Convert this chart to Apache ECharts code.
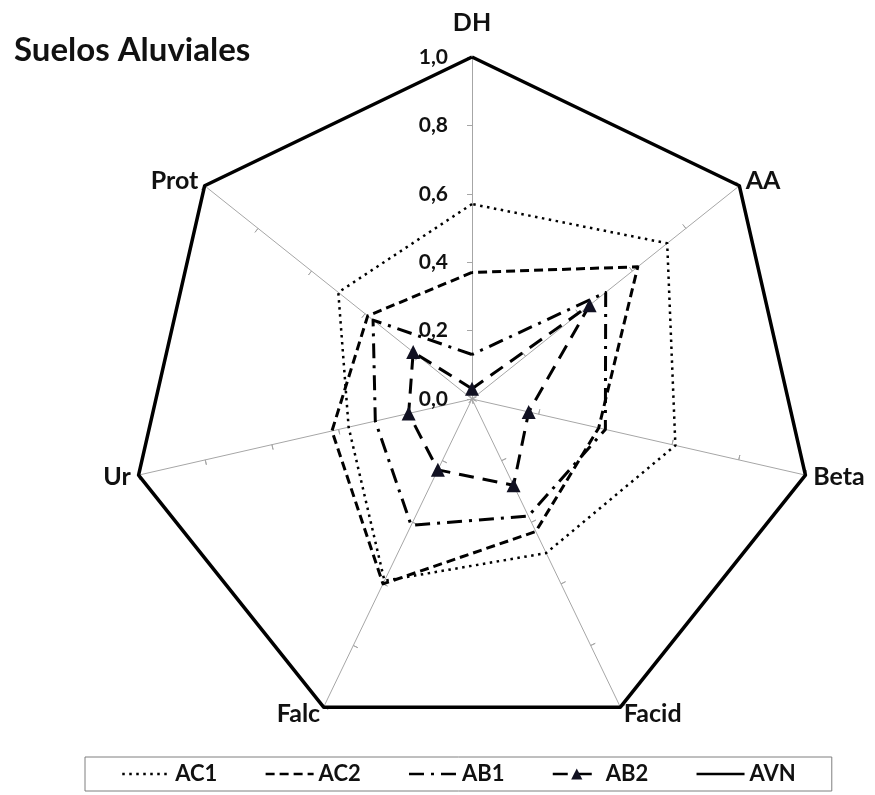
<!DOCTYPE html>
<html>
<head>
<meta charset="utf-8">
<style>
  html, body { margin: 0; padding: 0; background: #fff; }
  #chart { width: 875px; height: 795px; }
</style>
<script src="https://cdn.jsdelivr.net/npm/echarts@6/dist/echarts.min.js"></script>
</head>
<body>
<div id="chart"></div>
<script>
// axes in the order they are read clockwise from the top
const categories = ['DH', 'AA', 'Beta', 'Facid', 'Falc', 'Ur', 'Prot'];

const ac1 = [0.57, 0.73, 0.61, 0.50, 0.59, 0.37, 0.50];
const ac2 = [0.37, 0.62, 0.38, 0.43, 0.60, 0.42, 0.39];
const ab1 = [0.13, 0.50, 0.40, 0.38, 0.41, 0.29, 0.37];
const ab2 = [0.03, 0.44, 0.17, 0.28, 0.23, 0.19, 0.22];
const avn = [1.0, 1.0, 1.0, 1.0, 1.0, 1.0, 1.0];

const seriesNames = ['AC1', 'AC2', 'AB1', 'AB2', 'AVN'];

var chartDom = document.getElementById('chart');
var myChart = echarts.init(chartDom);
var option;

// echarts radar goes counter-clockwise, so flip everything after the first axis
function ccw(arr) {
    return [arr[0]].concat(arr.slice(1).reverse());
}

const font = 'Lato, "Open Sans", sans-serif';
const ink = '#111111';

const styles = {
    AC1: { type: [2.5, 4.5], width: 2.5, symbol: 'none' },
    AC2: { type: [9, 5], width: 3, symbol: 'none' },
    AB1: { type: [15, 7, 3, 7], width: 3, symbol: 'none' },
    AB2: { type: [15, 9], width: 3, symbol: 'triangle' },
    AVN: { type: 'solid', width: 3.5, symbol: 'none' }
};
const values = { AC1: ac1, AC2: ac2, AB1: ab1, AB2: ab2, AVN: avn };

const indicators = ccw(categories).map(function (name, i) {
    let ind = { name: name, min: 0, max: 1 };
    if (i === 0) {
        ind.axisLabel = { show: true };
        ind.nameGap = 22;
    }
    return ind;
});

let series = [];
// empty line series only to give the legend its line icons
seriesNames.forEach(function (name) {
    series.push({
        name: name,
        type: 'line',
        data: [],
        symbol: styles[name].symbol,
        symbolSize: 12,
        itemStyle: { color: '#111122' },
        lineStyle: { color: '#000', type: styles[name].type, width: styles[name].width }
    });
});
seriesNames.forEach(function (name) {
    series.push({
        name: name,
        type: 'radar',
        radarIndex: 0,
        symbol: styles[name].symbol,
        symbolSize: 14,
        itemStyle: { color: '#111122' },
        lineStyle: { color: '#000', type: styles[name].type, width: styles[name].width },
        data: [{ name: name, value: ccw(values[name]) }],
        z: name === 'AVN' ? 2 : 3
    });
});

// hide the round marker the legend puts on lines without symbols
const legendData = seriesNames.map(function (name) {
    if (styles[name].symbol === 'none') {
        return { name: name, itemStyle: { color: 'rgba(0,0,0,0)', borderWidth: 0, opacity: 0 } };
    }
    return { name: name };
});

option = {
    animation: false,
    title: {
        text: 'Suelos Aluviales',
        left: 9,
        top: 29,
        textStyle: { fontFamily: font, fontWeight: 'bold', fontSize: 33, color: ink }
    },
    grid: { show: false, left: 0, top: 0, width: 1, height: 1 },
    xAxis: { show: false, type: 'value' },
    yAxis: { show: false, type: 'value' },
    radar: [
        {
            center: [472, 399],
            radius: 342,
            startAngle: 90,
            shape: 'polygon',
            splitNumber: 5,
            indicator: indicators,
            axisName: { color: ink, fontFamily: font, fontWeight: 'bold', fontSize: 25 },
            nameGap: 8,
            axisLine: { lineStyle: { color: '#a6a6a6', width: 1 } },
            axisTick: { show: true, length: 5, lineStyle: { color: '#a6a6a6' } },
            axisLabel: {
                show: false,
                margin: 24,
                color: ink,
                fontFamily: font,
                fontWeight: 'bold',
                fontSize: 21,
                formatter: function (v) { return v.toFixed(1).replace('.', ','); }
            },
            splitLine: { show: false },
            splitArea: { show: false }
        },
        {
            // second copy only draws the other half of each tick mark
            center: [472, 399],
            radius: 342,
            startAngle: 90,
            shape: 'polygon',
            splitNumber: 5,
            indicator: ccw(categories).map(function (name) { return { name: name, min: 0, max: 1 }; }),
            axisName: { show: false },
            axisLine: { show: false },
            axisTick: { show: true, inside: true, length: 5, lineStyle: { color: '#a6a6a6' } },
            axisLabel: { show: false },
            splitLine: { show: false },
            splitArea: { show: false }
        }
    ],
    legend: {
        data: legendData,
        left: 85,
        top: 757,
        itemWidth: 48,
        itemHeight: 14,
        itemGap: 47,
        padding: [6, 36, 6, 36],
        borderColor: '#7f7f7f',
        borderWidth: 1,
        lineStyle: { width: 2.5 },
        textStyle: { fontFamily: font, fontWeight: 'bold', fontSize: 22, color: ink }
    },
    series: series
};

option && myChart.setOption(option);

window.addEventListener('resize', function () {
    myChart.resize();
});
</script>
</body>
</html>
